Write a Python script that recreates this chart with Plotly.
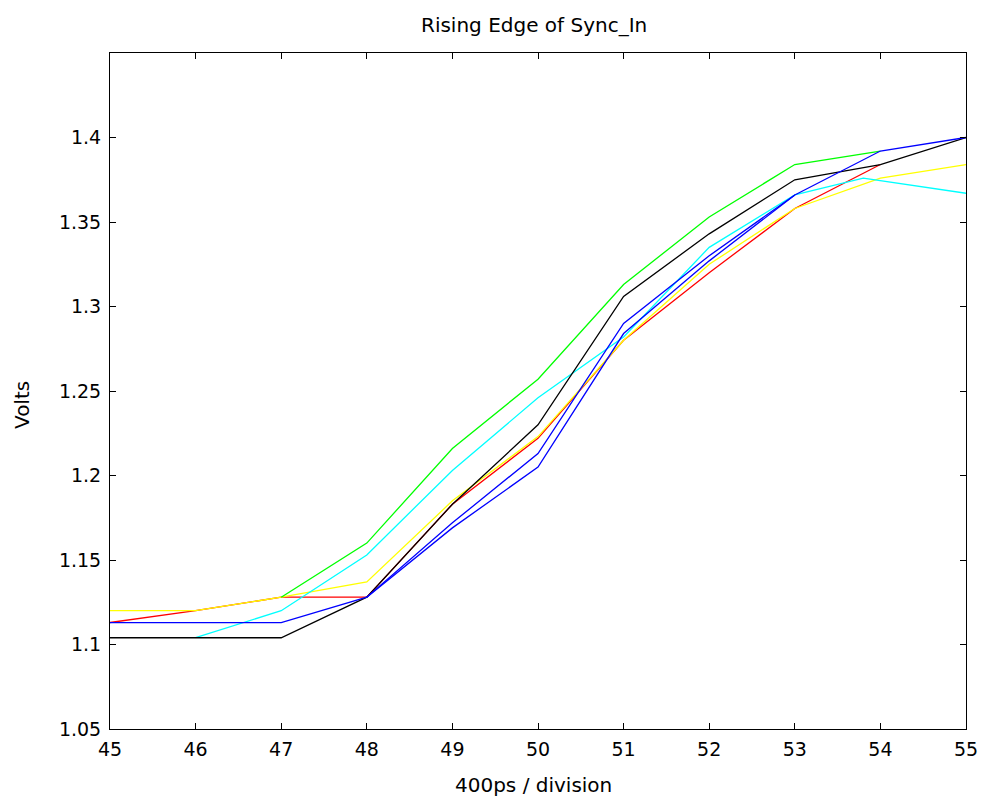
import plotly.graph_objects as go

x_ticks = [45, 46, 47, 48, 49, 50, 51, 52, 53, 54, 55]
y_ticks = [1.05, 1.1, 1.15, 1.2, 1.25, 1.3, 1.35, 1.4]
y_tick_text = ["1.05", "1.1", "1.15", "1.2", "1.25", "1.3", "1.35", "1.4"]

red_x = [45, 46, 47, 48, 49, 50, 51, 52, 53, 54]
red_y = [1.113, 1.120, 1.128, 1.128, 1.183, 1.222, 1.280, 1.320, 1.358, 1.384]

yellow_x = [45, 46, 47, 48, 49, 50, 51, 52, 53, 54, 55]
yellow_y = [1.120, 1.120, 1.128, 1.137, 1.185, 1.223, 1.280, 1.325, 1.358, 1.376, 1.384]

cyan_x = [46, 47, 48, 49, 50, 51, 52, 53, 53.8, 55]
cyan_y = [1.104, 1.120, 1.153, 1.203, 1.246, 1.282, 1.335, 1.366, 1.376, 1.367]

green_x = [47, 48, 49, 50, 51, 52, 53, 54]
green_y = [1.128, 1.160, 1.216, 1.257, 1.313, 1.353, 1.384, 1.392]

black_x = [45, 46, 47, 48, 49, 50, 51, 52, 53, 54, 55]
black_y = [1.104, 1.104, 1.104, 1.128, 1.183, 1.230, 1.306, 1.343, 1.375, 1.384, 1.400]

blue1_x = [45, 46, 47, 48, 49, 50, 51, 52, 53, 54, 55]
blue1_y = [1.113, 1.113, 1.113, 1.128, 1.172, 1.213, 1.290, 1.330, 1.366, 1.392, 1.400]

blue2_x = [48, 49, 50, 51, 52, 53]
blue2_y = [1.128, 1.169, 1.205, 1.284, 1.327, 1.366]

title_text = "Rising Edge of Sync_In"
x_title = "400ps / division"
y_title = "Volts"

series = [
    (red_x, red_y, "#ff0000"),
    (yellow_x, yellow_y, "#ffff00"),
    (cyan_x, cyan_y, "#00ffff"),
    (green_x, green_y, "#00ff00"),
    (black_x, black_y, "#000000"),
    (blue2_x, blue2_y, "#0000ff"),
    (blue1_x, blue1_y, "#0000ff"),
]

fig = go.Figure()
for xs, ys, c in series:
    fig.add_trace(go.Scatter(x=xs, y=ys, mode="lines",
                             line=dict(color=c, width=1.3), showlegend=False,
                             hoverinfo="skip"))

FONT = "DejaVu Sans, Verdana, sans-serif"
W, H = 982, 799
L, R, T, B = 110, 16, 53, 70
plot_w = W - L - R
plot_h = H - T - B

axis_common = dict(
    showline=True, linecolor="black", linewidth=1, mirror="allticks",
    ticks="inside", ticklen=6, tickcolor="black", tickwidth=1,
    showgrid=False, zeroline=False,
    tickfont=dict(family=FONT, size=19, color="black"),
)

fig.update_layout(
    width=W, height=H,
    paper_bgcolor="white", plot_bgcolor="white",
    margin=dict(l=L, r=R, t=T, b=B, autoexpand=False),
    xaxis=dict(range=[45, 55], tickvals=x_ticks, ticklabelstandoff=3, **axis_common),
    yaxis=dict(range=[1.05, 1.45], tickvals=y_ticks, ticktext=y_tick_text,
               ticklabelstandoff=4, **axis_common),
    annotations=[
        dict(text=title_text, xref="paper", yref="paper",
             x=0.495, y=(plot_h + T - 25) / plot_h, xanchor="center", yanchor="middle",
             showarrow=False, font=dict(family=FONT, size=20, color="black")),
        dict(text=x_title, xref="paper", yref="paper",
             x=0.495, y=-(785 - (T + plot_h)) / plot_h, xanchor="center", yanchor="middle",
             showarrow=False, font=dict(family=FONT, size=20, color="black")),
        dict(text=y_title, xref="paper", yref="paper",
             x=(22 - L) / plot_w, y=(T + plot_h - 405) / plot_h,
             xanchor="center", yanchor="middle", textangle=-90,
             showarrow=False, font=dict(family=FONT, size=20, color="black")),
    ],
)

fig.write_html(
    "out.html",
    config={"displayModeBar": False},
    post_script="document.body.style.margin='0';document.body.style.overflow='hidden';",
)
